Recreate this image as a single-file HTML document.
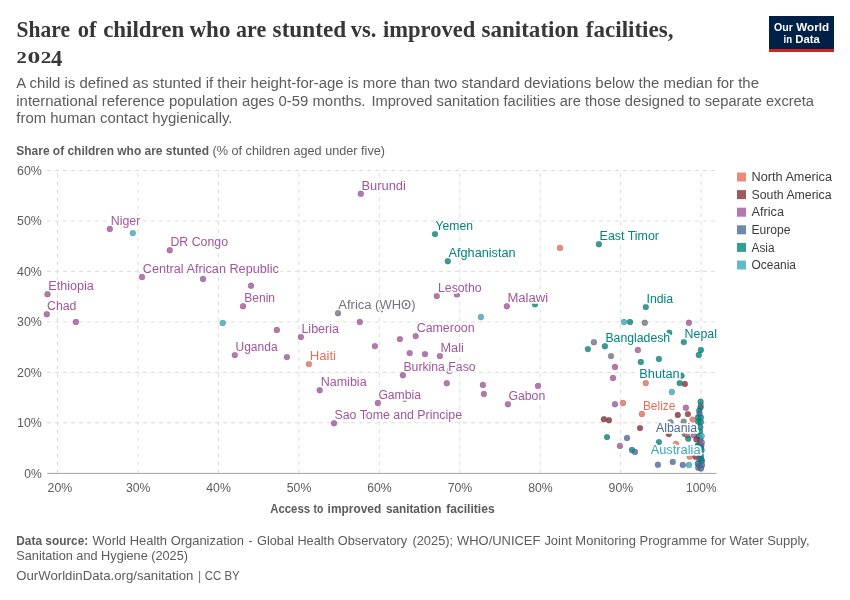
<!DOCTYPE html>
<html lang="en"><head><meta charset="utf-8">
<title>Share of children who are stunted vs. improved sanitation facilities, 2024</title>
<style>
html,body{margin:0;padding:0;background:#fff;}
body{width:850px;height:600px;overflow:hidden;}
svg{display:block;will-change:transform;}
text{font-family:"Liberation Sans", sans-serif;}
.title{font-family:"Liberation Serif", serif;font-weight:bold;fill:#373737;}
.sub{fill:#5b5b5b;font-size:14px;}
.tick{fill:#5b5b5b;font-size:12px;}
.axl{fill:#5b5b5b;font-size:12px;}
.foot{fill:#5b5b5b;font-size:13px;}
.leg{fill:#3b3b3b;font-size:12px;}
.lab{font-size:12px;stroke:#fff;stroke-width:3.6px;stroke-linejoin:round;paint-order:stroke fill;}
.grid line{stroke:#dcdcdc;stroke-width:1;stroke-dasharray:4 4;}
.dots circle{fill-opacity:0.8;stroke:#3a3a3a;stroke-opacity:0.4;stroke-width:0.5;}
b,.b{font-weight:bold;}
</style></head><body>
<svg width="850" height="600" viewBox="0 0 850 600">
<rect x="0" y="0" width="850" height="600" fill="#ffffff"/>
<text class="title" y="36.6" font-size="24"><tspan x="16.6" textLength="53.4" lengthAdjust="spacingAndGlyphs">Share</tspan> <tspan x="77.7" textLength="18.8" lengthAdjust="spacingAndGlyphs">of</tspan> <tspan x="103.2" textLength="81.1" lengthAdjust="spacingAndGlyphs">children</tspan> <tspan x="189.5" textLength="40.9" lengthAdjust="spacingAndGlyphs">who</tspan> <tspan x="236.1" textLength="30.1" lengthAdjust="spacingAndGlyphs">are</tspan> <tspan x="272.6" textLength="73.6" lengthAdjust="spacingAndGlyphs">stunted</tspan> <tspan x="350.7" textLength="25.7" lengthAdjust="spacingAndGlyphs">vs.</tspan> <tspan x="383.0" textLength="92.2" lengthAdjust="spacingAndGlyphs">improved</tspan> <tspan x="481.5" textLength="97.3" lengthAdjust="spacingAndGlyphs">sanitation</tspan> <tspan x="585.8" textLength="87.7" lengthAdjust="spacingAndGlyphs">facilities,</tspan></text>
<text class="title" font-size="17"><tspan x="16.4" y="62.7" textLength="10.3" lengthAdjust="spacingAndGlyphs">2</tspan><tspan x="27.5" y="62.7" textLength="12.8" lengthAdjust="spacingAndGlyphs">0</tspan><tspan x="40.7" y="62.7" textLength="10.6" lengthAdjust="spacingAndGlyphs">2</tspan><tspan x="51" y="65.7" font-size="22.2" textLength="11.3" lengthAdjust="spacingAndGlyphs">4</tspan></text>
<text class="sub" x="16.3" y="88.0" textLength="742.7" lengthAdjust="spacingAndGlyphs">A child is defined as stunted if their height-for-age is more than two standard deviations below the median for the</text>
<text class="sub" y="105.5"><tspan x="16.3" textLength="349.2" lengthAdjust="spacingAndGlyphs">international reference population ages 0-59 months.</tspan> <tspan x="371.4" textLength="442.6" lengthAdjust="spacingAndGlyphs">Improved sanitation facilities are those designed to separate excreta</tspan></text>
<text class="sub" x="16.3" y="123.0" textLength="216.2" lengthAdjust="spacingAndGlyphs">from human contact hygienically.</text>
<g>
<rect x="769" y="16" width="65" height="36" fill="#002147"/>
<rect x="769" y="49" width="65" height="3" fill="#ce261e"/>
<text y="30.5" font-size="11.6" font-weight="bold" fill="#fff"><tspan x="774" textLength="18.8" lengthAdjust="spacingAndGlyphs">Our</tspan> <tspan x="796.3" textLength="32.8" lengthAdjust="spacingAndGlyphs">World</tspan></text>
<text y="42.8" font-size="11.6" font-weight="bold" fill="#fff"><tspan x="783.5" textLength="8.6" lengthAdjust="spacingAndGlyphs">in</tspan> <tspan x="795.2" textLength="24.6" lengthAdjust="spacingAndGlyphs">Data</tspan></text>
</g>
<text class="axl" x="16.3" y="154.5"><tspan class="b" textLength="192.7" lengthAdjust="spacingAndGlyphs">Share of children who are stunted</tspan><tspan x="212.5" textLength="172.5" lengthAdjust="spacingAndGlyphs">(% of children aged under five)</tspan></text>
<g class="grid">
<line x1="47" y1="422.8" x2="716.5" y2="422.8"/>
<line x1="47" y1="372.4" x2="716.5" y2="372.4"/>
<line x1="47" y1="321.9" x2="716.5" y2="321.9"/>
<line x1="47" y1="271.4" x2="716.5" y2="271.4"/>
<line x1="47" y1="221.0" x2="716.5" y2="221.0"/>
<line x1="47" y1="170.5" x2="716.5" y2="170.5"/>
<line x1="57.5" y1="473.3" x2="57.5" y2="170.5"/>
<line x1="137.9" y1="473.3" x2="137.9" y2="170.5"/>
<line x1="218.4" y1="473.3" x2="218.4" y2="170.5"/>
<line x1="298.9" y1="473.3" x2="298.9" y2="170.5"/>
<line x1="379.3" y1="473.3" x2="379.3" y2="170.5"/>
<line x1="459.8" y1="473.3" x2="459.8" y2="170.5"/>
<line x1="540.2" y1="473.3" x2="540.2" y2="170.5"/>
<line x1="620.6" y1="473.3" x2="620.6" y2="170.5"/>
<line x1="701.1" y1="473.3" x2="701.1" y2="170.5"/>
</g>
<line x1="47.3" y1="473.4" x2="716.5" y2="473.4" stroke="#a3a3a3" stroke-width="1"/>
<text class="tick" x="24.3" y="477.5" textLength="17.5" lengthAdjust="spacingAndGlyphs">0%</text>
<text class="tick" x="17.0" y="427.0" textLength="24.8" lengthAdjust="spacingAndGlyphs">10%</text>
<text class="tick" x="17.0" y="376.6" textLength="24.8" lengthAdjust="spacingAndGlyphs">20%</text>
<text class="tick" x="17.0" y="326.1" textLength="24.8" lengthAdjust="spacingAndGlyphs">30%</text>
<text class="tick" x="17.0" y="275.6" textLength="24.8" lengthAdjust="spacingAndGlyphs">40%</text>
<text class="tick" x="17.0" y="225.2" textLength="24.8" lengthAdjust="spacingAndGlyphs">50%</text>
<text class="tick" x="17.0" y="174.7" textLength="24.8" lengthAdjust="spacingAndGlyphs">60%</text>
<text class="tick" x="47.6" y="491.5" textLength="24.6" lengthAdjust="spacingAndGlyphs">20%</text>
<text class="tick" x="125.9" y="491.5" textLength="24.5" lengthAdjust="spacingAndGlyphs">30%</text>
<text class="tick" x="206.3" y="491.5" textLength="24.5" lengthAdjust="spacingAndGlyphs">40%</text>
<text class="tick" x="286.8" y="491.5" textLength="24.5" lengthAdjust="spacingAndGlyphs">50%</text>
<text class="tick" x="367.2" y="491.5" textLength="24.5" lengthAdjust="spacingAndGlyphs">60%</text>
<text class="tick" x="447.7" y="491.5" textLength="24.5" lengthAdjust="spacingAndGlyphs">70%</text>
<text class="tick" x="528.2" y="491.5" textLength="24.5" lengthAdjust="spacingAndGlyphs">80%</text>
<text class="tick" x="608.6" y="491.5" textLength="24.5" lengthAdjust="spacingAndGlyphs">90%</text>
<text class="tick" x="686.1" y="491.5" textLength="30.4" lengthAdjust="spacingAndGlyphs">100%</text>
<text class="axl b" y="512.6"><tspan x="270.3" textLength="39.7" lengthAdjust="spacingAndGlyphs">Access</tspan> <tspan x="313.5" textLength="9.7" lengthAdjust="spacingAndGlyphs">to</tspan> <tspan x="327.6" textLength="53.6" lengthAdjust="spacingAndGlyphs">improved</tspan> <tspan x="385.9" textLength="55.6" lengthAdjust="spacingAndGlyphs">sanitation</tspan> <tspan x="446.2" textLength="48.5" lengthAdjust="spacingAndGlyphs">facilities</tspan></text>
<g class="dots">
<circle cx="203.0" cy="279.0" r="2.95" fill="#A2559C"/>
<circle cx="75.9" cy="322.0" r="2.95" fill="#A2559C"/>
<circle cx="251.0" cy="285.8" r="2.95" fill="#A2559C"/>
<circle cx="456.9" cy="294.4" r="2.95" fill="#A2559C"/>
<circle cx="407.5" cy="304.4" r="2.95" fill="#A2559C"/>
<circle cx="380.5" cy="309.5" r="2.95" fill="#A2559C"/>
<circle cx="359.8" cy="322.0" r="2.95" fill="#A2559C"/>
<circle cx="276.9" cy="330.0" r="2.95" fill="#A2559C"/>
<circle cx="399.9" cy="339.1" r="2.95" fill="#A2559C"/>
<circle cx="374.9" cy="346.1" r="2.95" fill="#A2559C"/>
<circle cx="286.9" cy="357.1" r="2.95" fill="#A2559C"/>
<circle cx="409.7" cy="353.1" r="2.95" fill="#A2559C"/>
<circle cx="425.0" cy="354.1" r="2.95" fill="#A2559C"/>
<circle cx="449.3" cy="370.9" r="2.95" fill="#A2559C"/>
<circle cx="446.8" cy="383.2" r="2.95" fill="#A2559C"/>
<circle cx="482.9" cy="384.9" r="2.95" fill="#A2559C"/>
<circle cx="483.9" cy="394.0" r="2.95" fill="#A2559C"/>
<circle cx="538.0" cy="385.9" r="2.95" fill="#A2559C"/>
<circle cx="615.0" cy="404.2" r="2.95" fill="#A2559C"/>
<circle cx="637.9" cy="350.0" r="2.95" fill="#A2559C"/>
<circle cx="615.0" cy="367.0" r="2.95" fill="#A2559C"/>
<circle cx="613.0" cy="378.0" r="2.95" fill="#A2559C"/>
<circle cx="688.9" cy="322.8" r="2.95" fill="#A2559C"/>
<circle cx="685.9" cy="407.8" r="2.95" fill="#A2559C"/>
<circle cx="619.9" cy="445.9" r="2.95" fill="#A2559C"/>
<circle cx="535.0" cy="304.3" r="2.95" fill="#00847E"/>
<circle cx="630.0" cy="322.0" r="2.95" fill="#00847E"/>
<circle cx="587.9" cy="349.1" r="2.95" fill="#00847E"/>
<circle cx="640.8" cy="362.0" r="2.95" fill="#00847E"/>
<circle cx="669.2" cy="332.7" r="2.95" fill="#00847E"/>
<circle cx="700.9" cy="350.0" r="2.95" fill="#00847E"/>
<circle cx="698.8" cy="355.0" r="2.95" fill="#00847E"/>
<circle cx="658.9" cy="359.0" r="2.95" fill="#00847E"/>
<circle cx="681.5" cy="375.8" r="2.95" fill="#00847E"/>
<circle cx="679.7" cy="383.1" r="2.95" fill="#00847E"/>
<circle cx="404.7" cy="398.7" r="2.95" fill="#00847E"/>
<circle cx="607.0" cy="437.1" r="2.95" fill="#00847E"/>
<circle cx="632.0" cy="450.0" r="2.95" fill="#00847E"/>
<circle cx="658.9" cy="442.1" r="2.95" fill="#00847E"/>
<circle cx="132.8" cy="233.1" r="2.95" fill="#38AABA"/>
<circle cx="222.7" cy="323.0" r="2.95" fill="#38AABA"/>
<circle cx="480.9" cy="317.0" r="2.95" fill="#38AABA"/>
<circle cx="624.0" cy="322.0" r="2.95" fill="#38AABA"/>
<circle cx="671.9" cy="392.0" r="2.95" fill="#38AABA"/>
<circle cx="689.0" cy="464.9" r="2.95" fill="#38AABA"/>
<circle cx="644.8" cy="322.8" r="2.95" fill="#6E7581"/>
<circle cx="593.9" cy="342.3" r="2.95" fill="#6E7581"/>
<circle cx="611.0" cy="356.1" r="2.95" fill="#6E7581"/>
<circle cx="683.8" cy="421.6" r="2.95" fill="#6E7581"/>
<circle cx="670.4" cy="422.2" r="2.95" fill="#6E7581"/>
<circle cx="560.0" cy="247.9" r="2.95" fill="#E56E5A"/>
<circle cx="645.8" cy="383.1" r="2.95" fill="#E56E5A"/>
<circle cx="623.0" cy="403.0" r="2.95" fill="#E56E5A"/>
<circle cx="675.9" cy="444.0" r="2.95" fill="#E56E5A"/>
<circle cx="603.9" cy="419.2" r="2.95" fill="#883039"/>
<circle cx="609.0" cy="420.2" r="2.95" fill="#883039"/>
<circle cx="640.0" cy="428.1" r="2.95" fill="#883039"/>
<circle cx="684.9" cy="383.9" r="2.95" fill="#883039"/>
<circle cx="677.8" cy="415.0" r="2.95" fill="#883039"/>
<circle cx="687.9" cy="414.1" r="2.95" fill="#883039"/>
<circle cx="668.8" cy="434.0" r="2.95" fill="#883039"/>
<circle cx="627.0" cy="438.0" r="2.95" fill="#4C6A9C"/>
<circle cx="635.0" cy="452.0" r="2.95" fill="#4C6A9C"/>
<circle cx="657.9" cy="464.8" r="2.95" fill="#4C6A9C"/>
<circle cx="672.8" cy="461.9" r="2.95" fill="#4C6A9C"/>
<circle cx="682.8" cy="464.9" r="2.95" fill="#4C6A9C"/>
<circle cx="700.8" cy="405.5" r="2.95" fill="#E56E5A"/>
<circle cx="692.6" cy="419.6" r="2.95" fill="#E56E5A"/>
<circle cx="700.6" cy="401.7" r="2.95" fill="#00847E"/>
<circle cx="700.5" cy="407.6" r="2.95" fill="#00847E"/>
<circle cx="699.2" cy="410.8" r="2.95" fill="#00847E"/>
<circle cx="699.6" cy="413.8" r="2.95" fill="#4C6A9C"/>
<circle cx="698.0" cy="417.5" r="2.95" fill="#00847E"/>
<circle cx="700.9" cy="417.5" r="2.95" fill="#00847E"/>
<circle cx="698.0" cy="422.1" r="2.95" fill="#00847E"/>
<circle cx="700.9" cy="422.1" r="2.95" fill="#00847E"/>
<circle cx="700.3" cy="427.2" r="2.95" fill="#00847E"/>
<circle cx="700.0" cy="431.7" r="2.95" fill="#00847E"/>
<circle cx="684.7" cy="433.9" r="2.95" fill="#4C6A9C"/>
<circle cx="687.3" cy="435.4" r="2.95" fill="#E56E5A"/>
<circle cx="694.0" cy="435.3" r="2.95" fill="#A2559C"/>
<circle cx="688.3" cy="438.7" r="2.95" fill="#00847E"/>
<circle cx="698.7" cy="436.2" r="2.95" fill="#00847E"/>
<circle cx="700.3" cy="439.7" r="2.95" fill="#00847E"/>
<circle cx="701.7" cy="436.1" r="2.95" fill="#38AABA"/>
<circle cx="696.4" cy="439.4" r="2.95" fill="#883039"/>
<circle cx="697.6" cy="445.7" r="2.95" fill="#00847E"/>
<circle cx="699.2" cy="444.4" r="2.95" fill="#00847E"/>
<circle cx="701.3" cy="445.4" r="2.95" fill="#00847E"/>
<circle cx="700.5" cy="447.9" r="2.95" fill="#00847E"/>
<circle cx="697.9" cy="450.4" r="2.95" fill="#00847E"/>
<circle cx="699.5" cy="451.4" r="2.95" fill="#00847E"/>
<circle cx="701.6" cy="450.2" r="2.95" fill="#00847E"/>
<circle cx="700.3" cy="453.9" r="2.95" fill="#00847E"/>
<circle cx="701.8" cy="442.5" r="2.95" fill="#A2559C"/>
<circle cx="689.7" cy="456.6" r="2.95" fill="#E56E5A"/>
<circle cx="695.5" cy="456.8" r="2.95" fill="#883039"/>
<circle cx="701.0" cy="456.4" r="2.95" fill="#4C6A9C"/>
<circle cx="699.2" cy="458.9" r="2.95" fill="#4C6A9C"/>
<circle cx="702.0" cy="460.9" r="2.95" fill="#4C6A9C"/>
<circle cx="701.2" cy="459.4" r="2.95" fill="#00847E"/>
<circle cx="697.8" cy="463.7" r="2.95" fill="#00847E"/>
<circle cx="699.7" cy="465.8" r="2.95" fill="#4C6A9C"/>
<circle cx="702.0" cy="465.3" r="2.95" fill="#4C6A9C"/>
<circle cx="698.2" cy="467.7" r="2.95" fill="#4C6A9C"/>
<circle cx="701.0" cy="468.6" r="2.95" fill="#4C6A9C"/>
</g>
<g>
<text class="lab" x="110.7" y="225.0" textLength="29.6" lengthAdjust="spacingAndGlyphs" fill="#A2559C">Niger</text>
<text class="lab" x="170.4" y="246.3" textLength="57.6" lengthAdjust="spacingAndGlyphs" fill="#A2559C">DR Congo</text>
<text class="lab" x="142.8" y="273.1" textLength="136.0" lengthAdjust="spacingAndGlyphs" fill="#A2559C">Central African Republic</text>
<text class="lab" x="48.3" y="289.9" textLength="45.6" lengthAdjust="spacingAndGlyphs" fill="#A2559C">Ethiopia</text>
<text class="lab" x="47.0" y="310.3" textLength="29.4" lengthAdjust="spacingAndGlyphs" fill="#A2559C">Chad</text>
<text class="lab" x="361.5" y="189.9" textLength="44.4" lengthAdjust="spacingAndGlyphs" fill="#A2559C">Burundi</text>
<text class="lab" x="435.5" y="230.0" textLength="37.5" lengthAdjust="spacingAndGlyphs" fill="#00847E">Yemen</text>
<text class="lab" x="448.5" y="256.8" textLength="67.1" lengthAdjust="spacingAndGlyphs" fill="#00847E">Afghanistan</text>
<text class="lab" x="438.0" y="291.9" textLength="43.6" lengthAdjust="spacingAndGlyphs" fill="#A2559C">Lesotho</text>
<text class="lab" x="244.3" y="301.9" textLength="30.7" lengthAdjust="spacingAndGlyphs" fill="#A2559C">Benin</text>
<text class="lab" x="338.3" y="308.8" textLength="77.2" lengthAdjust="spacingAndGlyphs" fill="#6E7581">Africa (WHO)</text>
<text class="lab" x="599.6" y="240.0" textLength="59.4" lengthAdjust="spacingAndGlyphs" fill="#00847E">East Timor</text>
<text class="lab" x="507.4" y="301.9" textLength="40.8" lengthAdjust="spacingAndGlyphs" fill="#A2559C">Malawi</text>
<text class="lab" x="646.5" y="302.9" textLength="26.7" lengthAdjust="spacingAndGlyphs" fill="#00847E">India</text>
<text class="lab" x="301.4" y="332.9" textLength="37.6" lengthAdjust="spacingAndGlyphs" fill="#A2559C">Liberia</text>
<text class="lab" x="235.5" y="351.0" textLength="42.1" lengthAdjust="spacingAndGlyphs" fill="#A2559C">Uganda</text>
<text class="lab" x="309.7" y="359.7" textLength="26.3" lengthAdjust="spacingAndGlyphs" fill="#E56E5A">Haiti</text>
<text class="lab" x="320.7" y="386.0" textLength="45.9" lengthAdjust="spacingAndGlyphs" fill="#A2559C">Namibia</text>
<text class="lab" x="378.4" y="398.6" textLength="42.6" lengthAdjust="spacingAndGlyphs" fill="#A2559C">Gambia</text>
<text class="lab" x="334.5" y="418.9" textLength="127.5" lengthAdjust="spacingAndGlyphs" fill="#A2559C">Sao Tome and Principe</text>
<text class="lab" x="416.7" y="331.7" textLength="57.9" lengthAdjust="spacingAndGlyphs" fill="#A2559C">Cameroon</text>
<text class="lab" x="403.4" y="370.5" textLength="72.2" lengthAdjust="spacingAndGlyphs" fill="#A2559C">Burkina Faso</text>
<text class="lab" x="440.5" y="351.7" textLength="23.3" lengthAdjust="spacingAndGlyphs" fill="#A2559C">Mali</text>
<text class="lab" x="508.4" y="399.8" textLength="36.9" lengthAdjust="spacingAndGlyphs" fill="#A2559C">Gabon</text>
<text class="lab" x="605.4" y="341.9" textLength="64.8" lengthAdjust="spacingAndGlyphs" fill="#00847E">Bangladesh</text>
<text class="lab" x="684.6" y="338.3" textLength="32.3" lengthAdjust="spacingAndGlyphs" fill="#00847E">Nepal</text>
<text class="lab" x="639.3" y="378.2" textLength="40.4" lengthAdjust="spacingAndGlyphs" fill="#00847E">Bhutan</text>
<text class="lab" x="642.9" y="409.8" textLength="32.5" lengthAdjust="spacingAndGlyphs" fill="#E56E5A">Belize</text>
<text class="lab" x="656.0" y="432.4" textLength="41.1" lengthAdjust="spacingAndGlyphs" fill="#4C6A9C">Albania</text>
<text class="lab" x="650.7" y="454.1" textLength="49.9" lengthAdjust="spacingAndGlyphs" fill="#38AABA">Australia</text>
</g>
<g class="dots">
<circle cx="109.8" cy="229.0" r="2.95" fill="#A2559C"/>
<circle cx="169.8" cy="250.2" r="2.95" fill="#A2559C"/>
<circle cx="142.0" cy="277.0" r="2.95" fill="#A2559C"/>
<circle cx="47.5" cy="294.2" r="2.95" fill="#A2559C"/>
<circle cx="46.8" cy="314.3" r="2.95" fill="#A2559C"/>
<circle cx="243.0" cy="306.2" r="2.95" fill="#A2559C"/>
<circle cx="360.8" cy="193.8" r="2.95" fill="#A2559C"/>
<circle cx="436.8" cy="296.1" r="2.95" fill="#A2559C"/>
<circle cx="506.9" cy="306.2" r="2.95" fill="#A2559C"/>
<circle cx="300.9" cy="337.1" r="2.95" fill="#A2559C"/>
<circle cx="415.7" cy="336.1" r="2.95" fill="#A2559C"/>
<circle cx="234.8" cy="355.1" r="2.95" fill="#A2559C"/>
<circle cx="439.9" cy="356.1" r="2.95" fill="#A2559C"/>
<circle cx="402.9" cy="375.2" r="2.95" fill="#A2559C"/>
<circle cx="319.7" cy="390.2" r="2.95" fill="#A2559C"/>
<circle cx="377.9" cy="403.0" r="2.95" fill="#A2559C"/>
<circle cx="334.0" cy="423.3" r="2.95" fill="#A2559C"/>
<circle cx="507.9" cy="404.2" r="2.95" fill="#A2559C"/>
<circle cx="435.0" cy="234.1" r="2.95" fill="#00847E"/>
<circle cx="447.8" cy="261.2" r="2.95" fill="#00847E"/>
<circle cx="598.9" cy="244.2" r="2.95" fill="#00847E"/>
<circle cx="645.8" cy="307.1" r="2.95" fill="#00847E"/>
<circle cx="604.9" cy="346.3" r="2.95" fill="#00847E"/>
<circle cx="683.8" cy="342.1" r="2.95" fill="#00847E"/>
<circle cx="338.0" cy="313.2" r="2.95" fill="#6E7581"/>
<circle cx="308.9" cy="364.1" r="2.95" fill="#E56E5A"/>
<circle cx="641.9" cy="414.0" r="2.95" fill="#E56E5A"/>
</g>
<rect x="737" y="172.5" width="9" height="9" fill="#E56E5A" fill-opacity="0.8"/>
<text class="leg" x="751.5" y="181.2" textLength="80.5" lengthAdjust="spacingAndGlyphs">North America</text>
<rect x="737" y="190.1" width="9" height="9" fill="#883039" fill-opacity="0.8"/>
<text class="leg" x="751.5" y="198.8" textLength="80.0" lengthAdjust="spacingAndGlyphs">South America</text>
<rect x="737" y="207.7" width="9" height="9" fill="#A2559C" fill-opacity="0.8"/>
<text class="leg" x="751.5" y="216.4" textLength="32.5" lengthAdjust="spacingAndGlyphs">Africa</text>
<rect x="737" y="225.3" width="9" height="9" fill="#4C6A9C" fill-opacity="0.8"/>
<text class="leg" x="751.5" y="234.0" textLength="39.0" lengthAdjust="spacingAndGlyphs">Europe</text>
<rect x="737" y="242.9" width="9" height="9" fill="#00847E" fill-opacity="0.8"/>
<text class="leg" x="751.5" y="251.6" textLength="23.0" lengthAdjust="spacingAndGlyphs">Asia</text>
<rect x="737" y="260.5" width="9" height="9" fill="#38AABA" fill-opacity="0.8"/>
<text class="leg" x="751.5" y="269.2" textLength="44.5" lengthAdjust="spacingAndGlyphs">Oceania</text>
<text class="foot" x="16.3" y="544.8"><tspan class="b" textLength="71.9" lengthAdjust="spacingAndGlyphs">Data source:</tspan> <tspan x="92.5" textLength="151.5" lengthAdjust="spacingAndGlyphs">World Health Organization</tspan> <tspan x="248.5" textLength="4.0" lengthAdjust="spacingAndGlyphs">-</tspan> <tspan x="257.0" textLength="150.2" lengthAdjust="spacingAndGlyphs">Global Health Observatory</tspan> <tspan x="412.4" textLength="40.8" lengthAdjust="spacingAndGlyphs">(2025);</tspan> <tspan x="457.0" textLength="83.4" lengthAdjust="spacingAndGlyphs">WHO/UNICEF</tspan> <tspan x="544.4" textLength="265.1" lengthAdjust="spacingAndGlyphs">Joint Monitoring Programme for Water Supply,</tspan></text>
<text class="foot" x="16.3" y="560.4" textLength="171.7" lengthAdjust="spacingAndGlyphs">Sanitation and Hygiene (2025)</text>
<text class="foot" y="580.4"><tspan x="16.3" textLength="177.0" lengthAdjust="spacingAndGlyphs">OurWorldinData.org/sanitation</tspan> <tspan x="198.2" textLength="2.8" lengthAdjust="spacingAndGlyphs">|</tspan> <tspan x="204.8" textLength="34.8" lengthAdjust="spacingAndGlyphs">CC BY</tspan></text>
</svg>
</body></html>
